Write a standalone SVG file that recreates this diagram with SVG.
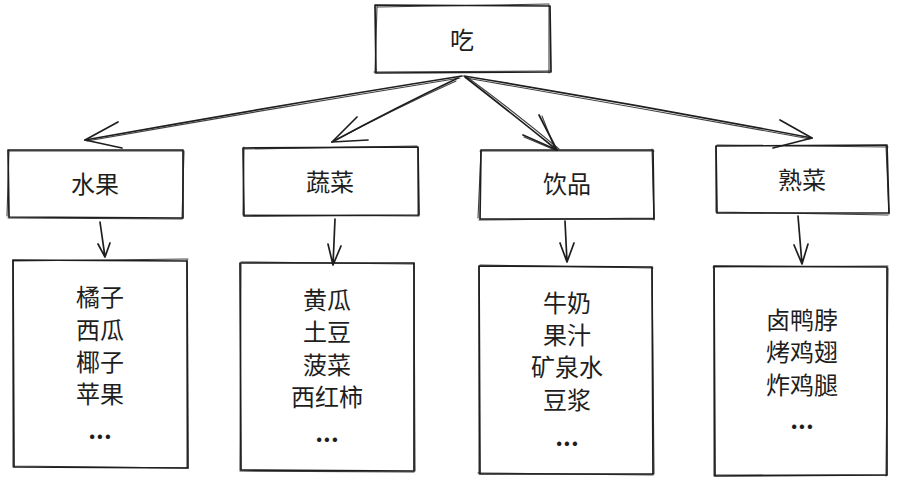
<svg xmlns="http://www.w3.org/2000/svg" width="903" height="490" viewBox="0 0 903 490">
<style>
.s{fill:none;stroke:#1e1e1e;stroke-width:1.7;stroke-linecap:round;stroke-linejoin:round}
.s2{fill:none;stroke:#1e1e1e;stroke-width:1.1;stroke-linecap:round;opacity:.85}
.t{font-family:"Noto Sans CJK SC","Noto Sans",sans-serif;font-size:24px;fill:#1e1e1e;text-anchor:middle;dominant-baseline:central}
.d{font-weight:bold}
</style>
<rect width="903" height="490" fill="#fff"/>
<g id="root">
<path class="s" d="M375 5 L550 6 L551 72 L376 73 Z"/>
<path class="s2" d="M377 7 L549 4 M549 5 L549 73 M550 71 L374 72 M375 73 L377 6"/>
<text class="t" x="462" y="38">吃</text>
</g>
<g id="c1">
<path class="s" d="M8 150 L183 150 L183 218 L9 217 Z"/>
<path class="s2" d="M10 151 L182 151 M184 151 L182 219 M182 219 L8 218 M7 216 L9 150"/>
<text class="t" x="95" y="182">水果</text>
</g>
<g id="c2">
<path class="s" d="M243 148 L418 147 L419 215 L244 216 Z"/>
<path class="s2" d="M244 149 L417 146 M418 148 L418 216 M419 216 L243 215 M243 215 L244 147"/>
<text class="t" x="330" y="180">蔬菜</text>
</g>
<g id="c3">
<path class="s" d="M481 150 L653 150 L654 219 L480 219 Z"/>
<path class="s2" d="M480 151 L654 151 M652 149 L654 220 M654 218 L479 220 M478 218 L481 151"/>
<text class="t" x="567" y="182">饮品</text>
</g>
<g id="c4">
<path class="s" d="M716 146 L887 145 L889 213 L717 213 Z"/>
<path class="s2" d="M717 145 L888 147 M886 146 L889 214 M888 215 L716 212 M716 212 L716 146"/>
<text class="t" x="802" y="178">熟菜</text>
</g>
<g id="l1">
<path class="s" d="M13 260 L187 261 L188 468 L14 467 Z"/>
<path class="s2" d="M14 261 L188 259 M187 260 L187 468 M188 468 L13 466 M13 467 L13 260"/>
<text class="t" x="100" y="295">橘子</text>
<text class="t" x="100" y="328">西瓜</text>
<text class="t" x="100" y="360">椰子</text>
<text class="t" x="100" y="392">苹果</text>
<text class="t d" x="100" y="428">...</text>
</g>
<g id="l2">
<path class="s" d="M240 263 L414 263 L414 471 L241 470 Z"/>
<path class="s2" d="M241 262 L413 264 M414 263 L415 471 M414 472 L240 471 M240 470 L241 264"/>
<text class="t" x="327" y="298">黄瓜</text>
<text class="t" x="327" y="330">土豆</text>
<text class="t" x="327" y="363">菠菜</text>
<text class="t" x="327" y="395">西红柿</text>
<text class="t d" x="327" y="431">...</text>
</g>
<g id="l3">
<path class="s" d="M479 266 L652 267 L653 474 L480 474 Z"/>
<path class="s2" d="M480 265 L653 268 M652 267 L654 474 M653 475 L478 473 M479 474 L479 266"/>
<text class="t" x="567" y="301">牛奶</text>
<text class="t" x="567" y="333">果汁</text>
<text class="t" x="567" y="365">矿泉水</text>
<text class="t" x="567" y="398">豆浆</text>
<text class="t d" x="567" y="435">...</text>
</g>
<g id="l4">
<path class="s" d="M714 266 L887 267 L887 475 L715 476 Z"/>
<path class="s2" d="M713 267 L888 266 M888 268 L886 476 M887 475 L714 475 M714 476 L714 266"/>
<text class="t" x="802" y="318">卤鸭脖</text>
<text class="t" x="802" y="350">烤鸡翅</text>
<text class="t" x="802" y="383">炸鸡腿</text>
<text class="t d" x="802" y="418">...</text>
</g>
<g id="connectors">
<path class="s" d="M462 76 Q280 105 85 140"/>
<path class="s2" d="M460 78 Q275 108 87 141"/>
<path class="s" d="M85 140 L118 122 M85 140 L122 148"/>
<path class="s" d="M458 78 Q395 108 332 142"/>
<path class="s2" d="M456 81 Q392 110 334 141"/>
<path class="s" d="M332 142 L357 117 M332 142 L368 140"/>
<path class="s" d="M465 77 Q510 112 557 150"/>
<path class="s2" d="M467 77 Q512 110 559 149"/>
<path class="s" d="M557 150 L539 115 M557 150 L523 135"/>
<path class="s2" d="M555 149 L542 116 M555 150 L524 137"/>
<path class="s" d="M464 76 Q640 105 812 138"/>
<path class="s2" d="M466 78 Q640 108 810 139"/>
<path class="s" d="M812 138 L780 120 M812 138 L773 148"/>
<path class="s" d="M100 222 L105 257 M105 257 L98 244 M105 257 L110 243"/>
<path class="s" d="M335 219 L333 265 M333 265 L328 244 M333 265 L341 246"/>
<path class="s" d="M565 221 L567 262 M567 262 L560 243 M567 262 L574 243"/>
<path class="s" d="M798 216 L802 264 M802 264 L794 245 M802 264 L808 244"/>
</g>
</svg>
